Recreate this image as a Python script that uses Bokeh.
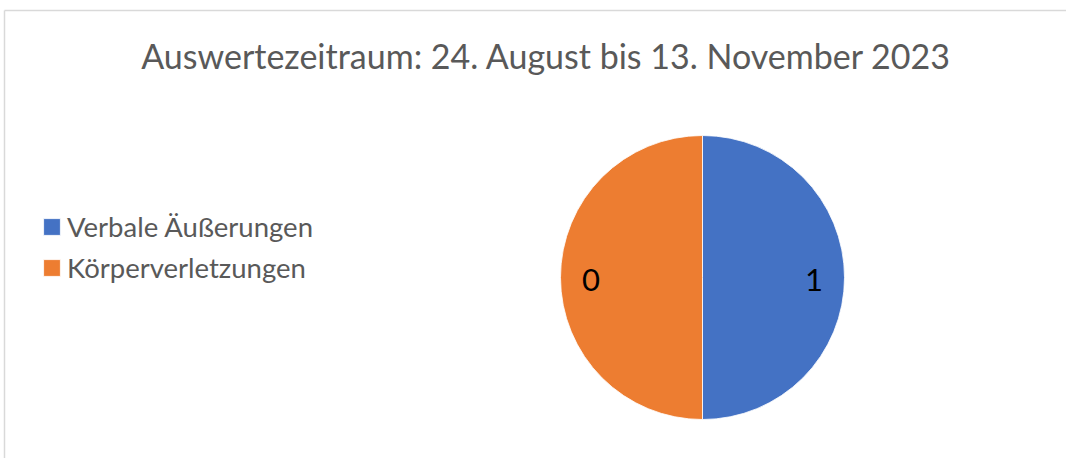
import numpy as np
from bokeh.plotting import figure
from bokeh.models import Range1d, ColumnDataSource, Legend, LegendItem
from bokeh.core.properties import value
from bokeh.embed import file_html
from bokeh.resources import INLINE

# ---- data ----
title_text = "Auswertezeitraum: 24. August bis 13. November 2023"
categories = ["Verbale Äußerungen", "Körperverletzungen"]
shares = [0.5, 0.5]          # slice sizes as drawn (equal halves)
data_labels = ["1", "0"]     # labels printed on the slices
colors = ["#4472C4", "#ED7D31"]

# ---- layout (reference pixel space, y measured from top) ----
W, H = 1066, 458
FONT = "Lato"
cx, cy, R = 702, 277, 142

def Y(ref_y):
    return H - ref_y

p = figure(width=W, height=H, output_backend="svg", toolbar_location=None,
           x_range=Range1d(0, W), y_range=Range1d(0, H),
           min_border=0)
p.xaxis.visible = False
p.yaxis.visible = False
p.xgrid.visible = False
p.ygrid.visible = False
p.outline_line_color = None
p.background_fill_color = "white"

# border of chart area
p.line([4, W], [Y(10), Y(10)], line_color="#d9d9d9", line_width=1.5)
p.line([4, 4], [Y(10), 0], line_color="#d9d9d9", line_width=1.5)

total = float(sum(shares))
frac = np.array(shares) / total
cum = np.concatenate([[0], np.cumsum(frac)])
start = np.pi / 2 - 2 * np.pi * cum[:-1]
end = np.pi / 2 - 2 * np.pi * cum[1:]
mid = (start + end) / 2

src = ColumnDataSource(dict(cat=categories, start=start, end=end, color=colors,
                            x=[cx] * len(shares), y=[Y(cy)] * len(shares)))
r = p.wedge(x="x", y="y", radius=R, radius_units="screen",
            start_angle="start", end_angle="end", direction="clock",
            fill_color="color", line_color="white", line_width=0.8, source=src)

lr = 0.785 * R
lsrc = ColumnDataSource(dict(x=cx + lr * np.cos(mid), y=Y(cy + 2) + lr * np.sin(mid),
                             t=data_labels))
p.text(x="x", y="y", text="t", source=lsrc, text_font=value(FONT),
       text_font_size="31px", text_color="black",
       text_align="center", text_baseline="middle")

tsrc = ColumnDataSource(dict(x=[546], y=[Y(55)], t=[title_text]))
p.text(x="x", y="y", text="t", source=tsrc, text_font=value(FONT),
       text_font_size="34px", text_color="#595959",
       text_align="center", text_baseline="middle")

items = [LegendItem(label=c, renderers=[r], index=i) for i, c in enumerate(categories)]
legend = Legend(items=items, location=(41, H - 284), orientation="vertical",
                glyph_width=21, glyph_height=21, label_text_font=FONT,
                label_text_font_size="27.5px", label_text_color="#595959",
                spacing=8, padding=0, margin=0, label_standoff=5,
                border_line_color=None, background_fill_alpha=0)
p.add_layout(legend, "center")

open("out.html", "w").write(file_html(p, INLINE))
